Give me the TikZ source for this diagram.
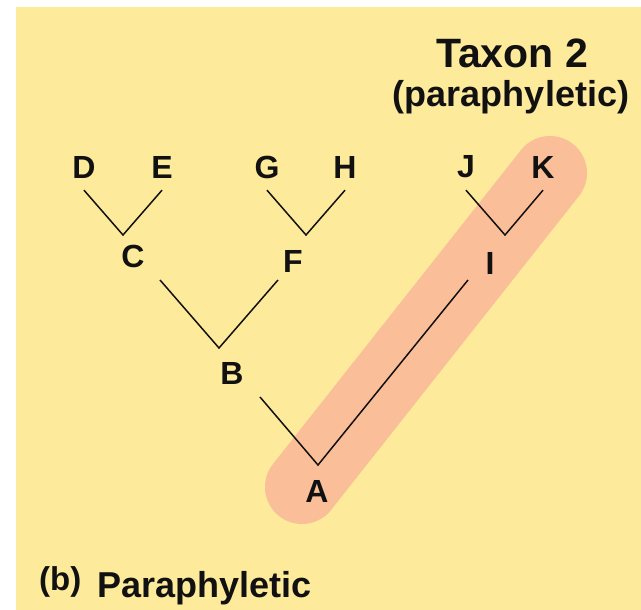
\documentclass[tikz,border=0pt]{standalone}
\usepackage{fontspec}
\setmainfont{Liberation Sans}
\usepackage{tikz}
\usetikzlibrary{positioning}
\definecolor{Sand}{HTML}{FDEA9B}
\definecolor{Salmon}{HTML}{FABE99}
\definecolor{Ink}{HTML}{111111}

\begin{document}
\begin{tikzpicture}[x=1pt, y=-1pt]
  \tikzstyle{taxon} = [inner sep=0pt, minimum height=46pt, font=\fontsize{32}{34}\selectfont\bfseries, text=Ink]
  \tikzstyle{branch} = [draw=Ink, line width=1.5pt]
  \tikzstyle{caption} = [inner sep=0pt, text=Ink, font=\bfseries]

  % frame
  \useasboundingbox (0,0) rectangle (641,610);
  \fill[white] (0,0) rectangle (641,610);
  \fill[Sand] (16,7) rectangle (641,610);

  % taxon 2 band
  \coordinate (bandlow) at (302,487);
  \coordinate (bandhigh) at (550,173);
  \draw[Salmon, line width=74pt, line cap=round] (bandlow) -- (bandhigh);

  % tips
  \node [taxon] (D) at (84,167) {D};
  \node [taxon] (E) at (162,167) {E};
  \node [taxon] (G) at (267,167) {G};
  \node [taxon] (H) at (345,167) {H};
  \node [taxon] (J) at (466,167) {J};
  \node [taxon] (K) at (543,167) {K};

  % ancestors
  \node [taxon] (C) at (133,256) {C};
  \node [taxon] (F) at (293,261) {F};
  \node [taxon] (I) at (490,263) {I};
  \node [taxon] (B) at (232,373) {B};
  \node [taxon] (A) at (317,491) {A};

  \coordinate (de) at (123,235);
  \coordinate (gh) at (306,235);
  \coordinate (jk) at (505,235);
  \coordinate (cstem) at (160,280);
  \coordinate (fstem) at (278,280);
  \coordinate (cf) at (219,348);
  \coordinate (bstem) at (260,397);
  \coordinate (istem) at (468,280);
  \coordinate (bi) at (318,465);

  \draw[branch] (D.south) -- (de) -- (E.south);
  \draw[branch] (G.south) -- (gh) -- (H.south);
  \draw[branch] (J.south) -- (jk) -- (K.south);
  \draw[branch] (cstem) -- (cf) -- (fstem);
  \draw[branch] (bstem) -- (bi) -- (istem);

  % headings
  \node [caption, font=\fontsize{41}{43}\selectfont\bfseries] (title) at (512,53) {Taxon 2};
  \node [caption, font=\fontsize{36}{38}\selectfont\bfseries] (subtitle) at (511,97) {(paraphyletic)};
  \node [caption, anchor=base west, font=\fontsize{33}{35}\selectfont\bfseries] (panel) at (39,590) {(b)};
  \node [caption, anchor=base west, font=\fontsize{36}{38}\selectfont\bfseries] (kind) at (97,597) {Paraphyletic};
\end{tikzpicture}
\end{document}
